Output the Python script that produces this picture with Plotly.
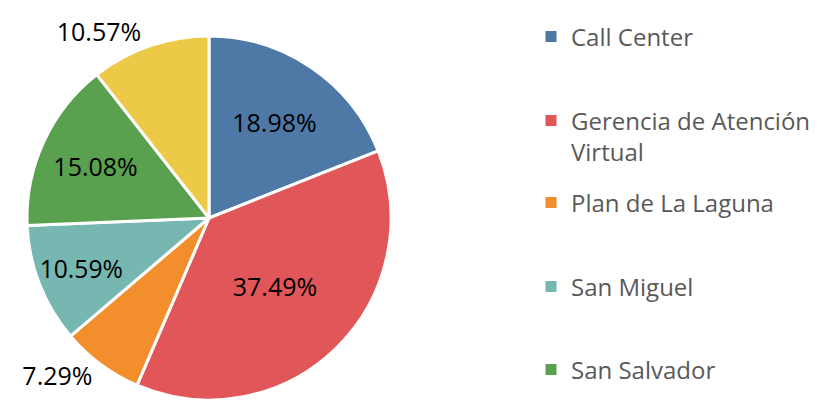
import plotly.graph_objects as go

# slice shares (%), clockwise from 12 o'clock
labels = ["Call Center", "Gerencia de Atención Virtual", "Plan de La Laguna",
          "San Miguel", "San Salvador", "Otros"]
shares = [18.98, 37.49, 7.29, 10.59, 15.08, 10.57]
colors = ["#4E79A7", "#E15759", "#F28E2B", "#76B7B2", "#59A14F", "#EDC948"]
text_pos = ["inside", "inside", "outside", "inside", "inside", "outside"]

# legend entries visible in the original (sixth entry is cut off there)
legend_names = ["Call Center", "Gerencia de Atención<br>Virtual", "Plan de La Laguna",
                "San Miguel", "San Salvador"]
legend_rows = [37, 136.5, 203, 287, 370]  # pixel centre of each entry

# page body has an 8px margin, so work in page pixels minus 8
OFF = 8
W, H = 817 - OFF, 404 - OFF
FONT = "Open Sans"


def px_x(p):
    return (p - OFF) / W


def px_y(p):
    return 1 - (p - OFF) / H


fig = go.Figure()
fig.add_trace(go.Pie(
    labels=labels, values=shares, sort=False, direction="clockwise", rotation=0,
    marker=dict(colors=colors, line=dict(color="white", width=3)),
    texttemplate="%{percent:.2%}", textposition=text_pos,
    insidetextorientation="horizontal",
    textfont=dict(family=FONT, size=25, color="black"),
    showlegend=False, hoverinfo="label+percent",
    domain=dict(x=[px_x(27), px_x(391)], y=[px_y(400), px_y(36)]),
))

legend_layout = {}
for i, (name, c) in enumerate(zip(legend_names, colors[:5])):
    key = "legend" if i == 0 else f"legend{i + 1}"
    fig.add_trace(go.Scatter(
        x=[None], y=[None], mode="markers", name=name, legend=key,
        marker=dict(symbol="square", size=11, color=c),
    ))
    legend_layout[key] = dict(
        x=px_x(531), xanchor="left", y=px_y(legend_rows[i]), yanchor="middle",
        font=dict(family=FONT, size=24, color="#595959"),
        bgcolor="rgba(0,0,0,0)", valign="top",
    )

fig.update_layout(
    width=W, height=H, margin=dict(l=0, r=0, t=0, b=0),
    paper_bgcolor="white", plot_bgcolor="white",
    xaxis=dict(visible=False), yaxis=dict(visible=False),
    **legend_layout,
)
fig.write_html("out.html")
